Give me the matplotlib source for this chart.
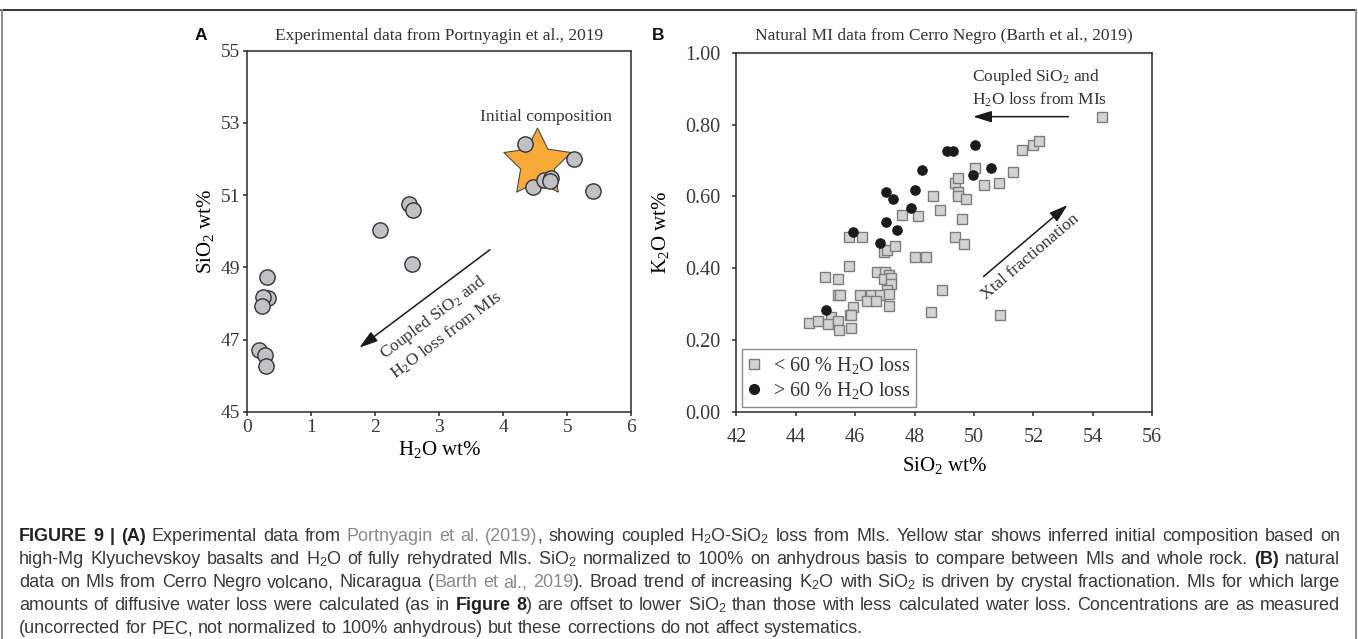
import matplotlib
matplotlib.use('Agg')
import matplotlib.pyplot as plt
from matplotlib.path import Path
from matplotlib.lines import Line2D

W, H = 1358, 639

plt.rcParams['font.family'] = ['Liberation Serif', 'DejaVu Serif']
plt.rcParams['mathtext.fontset'] = 'custom'
plt.rcParams['mathtext.rm'] = 'Liberation Serif'
plt.rcParams['mathtext.it'] = 'Liberation Serif:italic'
plt.rcParams['mathtext.sf'] = 'Liberation Sans'
plt.rcParams['text.color'] = '#333333'
plt.rcParams['axes.edgecolor'] = '#2a2a2a'
plt.rcParams['axes.linewidth'] = 1.1
plt.rcParams['xtick.color'] = '#2a2a2a'
plt.rcParams['ytick.color'] = '#2a2a2a'
plt.rcParams['xtick.labelcolor'] = '#3a3a3a'
plt.rcParams['ytick.labelcolor'] = '#3a3a3a'

# ---- panel A : experimental data (Portnyagin et al., 2019)
h2o_exp = [4.34, 5.10, 5.40, 4.47, 4.63, 4.75, 4.73, 2.53, 2.59, 2.08, 2.57,
           0.31, 0.33, 0.24, 0.23, 0.18, 0.28, 0.29]
sio2_exp = [52.41, 52.00, 51.13, 51.22, 51.42, 51.47, 51.40, 50.75, 50.60, 50.04, 49.09,
            48.75, 48.15, 48.18, 47.94, 46.72, 46.58, 46.26]
h2o_init = [4.53]
sio2_init = [51.90]
a_xticks = [0, 1, 2, 3, 4, 5, 6]
a_yticks = [45, 47, 49, 51, 53, 55]

# ---- panel B : Cerro Negro MIs (Barth et al., 2019)
sio2_lo = [54.30, 51.62, 51.98, 52.20, 50.03, 51.30, 50.85, 50.34, 49.36, 49.45,
           49.45, 49.45, 49.73, 48.61, 48.86, 47.58, 48.10, 49.60, 49.36, 49.66,
           45.79, 46.22, 46.98, 47.07, 47.35, 48.03, 48.40, 45.79, 44.98, 45.42,
           46.72, 46.99, 47.13, 46.98, 47.22, 47.20, 47.06, 48.91, 45.43, 45.50,
           46.16, 46.53, 46.85, 47.13, 46.40, 46.70, 47.13, 45.93, 48.56, 50.86,
           45.81, 45.87, 45.19, 44.44, 44.74, 45.10, 45.42, 45.47, 45.86]
k2o_lo = [0.822, 0.730, 0.742, 0.753, 0.680, 0.667, 0.636, 0.631, 0.637, 0.650,
          0.611, 0.600, 0.594, 0.600, 0.563, 0.549, 0.545, 0.538, 0.488, 0.468,
          0.488, 0.488, 0.444, 0.452, 0.463, 0.432, 0.432, 0.407, 0.377, 0.370,
          0.389, 0.389, 0.381, 0.371, 0.372, 0.356, 0.340, 0.340, 0.326, 0.326,
          0.326, 0.326, 0.326, 0.329, 0.309, 0.309, 0.295, 0.291, 0.277, 0.270,
          0.270, 0.270, 0.265, 0.247, 0.253, 0.246, 0.253, 0.228, 0.235]
sio2_hi = [49.10, 49.30, 50.03, 48.25, 50.57, 49.97, 47.03, 47.28, 48.02, 47.87,
           45.94, 47.05, 47.42, 46.84, 45.03]
k2o_hi = [0.727, 0.727, 0.742, 0.674, 0.679, 0.661, 0.611, 0.594, 0.619, 0.569,
          0.500, 0.530, 0.507, 0.470, 0.284]
b_xticks = [42, 44, 46, 48, 50, 52, 54, 56]
b_yticks = [0.0, 0.2, 0.4, 0.6, 0.8, 1.0]

# ---- caption (runs of text: b = bold, n = normal, g = grey link)
SUB = r'$_\mathsf{2}$'
caption = [
    [('FIGURE 9 | (A)', 'b'), (' Experimental data from ', 'n'), ('Portnyagin et al. (2019)', 'g'),
     (', showing coupled H' + SUB + 'O-SiO' + SUB + ' loss from MIs. Yellow star shows inferred '
      'initial composition based on', 'n')],
    [('high-Mg Klyuchevskoy basalts and H' + SUB + 'O of fully rehydrated MIs. SiO' + SUB +
      ' normalized to 100% on anhydrous basis to compare between MIs and whole rock. ', 'n'),
     ('(B)', 'b'), (' natural', 'n')],
    [('data on MIs from Cerro Negro volcano, Nicaragua (', 'n'), ('Barth et al., 2019', 'g'),
     ('). Broad trend of increasing K' + SUB + 'O with SiO' + SUB + ' is driven by crystal '
      'fractionation. MIs for which large', 'n')],
    [('amounts of diffusive water loss were calculated (as in ', 'n'), ('Figure 8', 'b'),
     (') are offset to lower SiO' + SUB + ' than those with less calculated water loss. '
      'Concentrations are as measured', 'n')],
    [('(uncorrected for PEC, not normalized to 100% anhydrous) but these corrections do not '
      'affect systematics.', 'n')],
]


def px_box(left, top, right, bottom):
    return [left / W, 1 - bottom / H, (right - left) / W, (bottom - top) / H]


fig = plt.figure(figsize=(W / 100, H / 100), dpi=100)

# outer frame of the figure panel
fig.add_artist(Line2D([1 / W, 1356 / W], [1 - 10 / H, 1 - 10 / H], color='#111111', lw=1.2))
for xx in (1.5, 1355.5):
    fig.add_artist(Line2D([xx / W, xx / W], [0, 1 - 10 / H], color='#8c8c8c', lw=1.4))

tick_kw = dict(direction='out', length=3.2, width=1.1)
arrow_kw = dict(arrowstyle='-|>,head_length=0.8,head_width=0.25', color='#1a1a1a',
                lw=1.1, shrinkA=0, shrinkB=0, mutation_scale=14)

# ================= panel A
axA = fig.add_axes(px_box(247.3, 50.7, 631.3, 412))
star = Path.unit_regular_star(5, 0.5)
axA.plot(h2o_init, sio2_init, ls='none', marker=star, ms=51, mfc='#f7aa38',
         mec='#4a4a4a', mew=0.8, zorder=2)
axA.plot(h2o_exp, sio2_exp, ls='none', marker='o', ms=11, mfc='#c1c1c5',
         mec='#333333', mew=1.0, zorder=3)
axA.set_xlim(0, 6)
axA.set_ylim(45, 55)
axA.set_xticks(a_xticks)
axA.set_yticks(a_yticks)
axA.tick_params(labelsize=14, pad=2, **tick_kw)
axA.set_xlabel(r'H$_2$O wt%', fontsize=15)
axA.set_ylabel(r'SiO$_2$ wt%', fontsize=15)
axA.xaxis.set_label_coords(0.5, -0.105)
axA.xaxis.label.set_va('center')
axA.yaxis.set_label_coords(-0.11, 0.5)
axA.yaxis.label.set_va('center')
axA.set_title('Experimental data from Portnyagin et al., 2019', fontsize=12.5, pad=8)
axA.text(4.67, 53.17, 'Initial composition', fontsize=12.5, ha='center', va='center')
axA.annotate('', xy=(1.75, 46.78), xytext=(3.79, 49.49), arrowprops=arrow_kw)
axA.text(3.01, 47.37, 'Coupled SiO$_2$ and\nH$_2$O loss from MIs', fontsize=12.5,
         rotation=36.8, rotation_mode='anchor', ha='center', va='center', multialignment='center')
fig.text(201 / W, 1 - 35 / H, 'A', family='Liberation Sans', weight='bold',
         fontsize=12.5, color='#111111', ha='center', va='center')

# ================= panel B
axB = fig.add_axes(px_box(736.4, 52.7, 1152.2, 412))
axB.plot(sio2_lo, k2o_lo, ls='none', marker='s', ms=6.8, mfc='#d2d2d2',
         mec='#7d7d7d', mew=1.0, zorder=3)
axB.plot(sio2_hi, k2o_hi, ls='none', marker='o', ms=6.8, mfc='#1b1b1b',
         mec='#1b1b1b', mew=0.8, zorder=4)
axB.set_xlim(42, 56)
axB.set_ylim(0, 1)
axB.set_xticks(b_xticks)
axB.set_yticks(b_yticks)
axB.set_yticklabels([f'{v:.2f}' for v in b_yticks])
axB.tick_params(labelsize=14.5, pad=8, **tick_kw)
axB.set_xlabel(r'SiO$_2$ wt%', fontsize=15)
axB.set_ylabel(r'K$_2$O wt%', fontsize=15)
axB.xaxis.set_label_coords(0.5, -0.148)
axB.xaxis.label.set_va('center')
axB.yaxis.set_label_coords(-0.182, 0.5)
axB.yaxis.label.set_va('center')
axB.set_title('Natural MI data from Cerro Negro (Barth et al., 2019)', fontsize=12.5, pad=9)
axB.annotate('', xy=(49.97, 0.822), xytext=(53.18, 0.822), arrowprops=arrow_kw)
axB.text(49.93, 0.902, 'Coupled SiO$_2$ and\nH$_2$O loss from MIs', fontsize=12.5,
         ha='left', va='center')
axB.annotate('', xy=(53.15, 0.576), xytext=(50.32, 0.377), arrowprops=arrow_kw)
axB.text(51.89, 0.432, 'Xtal fractionation', fontsize=12.5, rotation=40.5,
         rotation_mode='anchor', ha='center', va='center')
handles = [
    Line2D([], [], ls='none', marker='s', ms=7, mfc='#d2d2d2', mec='#7d7d7d', mew=1.0),
    Line2D([], [], ls='none', marker='o', ms=7, mfc='#1b1b1b', mec='#1b1b1b'),
]
leg = axB.legend(handles, [r'< 60 % H$_2$O loss', r'> 60 % H$_2$O loss'],
                 loc='lower left', bbox_to_anchor=(0.0144, 0.014), borderaxespad=0,
                 fontsize=14.5, handlelength=0.6, handletextpad=0.6, borderpad=0.3,
                 labelspacing=0.2, fancybox=False, framealpha=1, edgecolor='#8c8c8c')
leg.get_frame().set_linewidth(1.0)
fig.text(658 / W, 1 - 35 / H, 'B', family='Liberation Sans', weight='bold',
         fontsize=12.5, color='#111111', ha='center', va='center')

# ================= caption, justified word by word
styles = {
    'n': dict(color='#3a3a3a'),
    'g': dict(color='#8a8a8a'),
    'b': dict(color='#222222', weight='bold'),
}
cap_left, cap_right = 19, 1340
baselines = [541, 564, 587, 610, 633]
renderer = fig.canvas.get_renderer()
cap_font = dict(family=['Liberation Sans', 'DejaVu Sans'], fontsize=13, va='baseline', ha='left')

probe1 = fig.text(0, 0, 'a a', **cap_font)
probe2 = fig.text(0, 0, 'aa', **cap_font)
space_w = probe1.get_window_extent(renderer).width - probe2.get_window_extent(renderer).width
probe1.remove()
probe2.remove()

for li, runs in enumerate(caption):
    words = []
    new_word = True
    for text, st in runs:
        for i, piece in enumerate(text.split(' ')):
            if i > 0:
                new_word = True
            if piece:
                if new_word:
                    words.append([])
                    new_word = False
                words[-1].append((piece, st))
    y = 1 - baselines[li] / H
    placed = []
    for word in words:
        parts = []
        for piece, st in word:
            t = fig.text(0, y, piece, **cap_font, **styles[st])
            parts.append((t, t.get_window_extent(renderer).width))
        placed.append(parts)
    widths = [sum(w for _, w in parts) for parts in placed]
    if li < len(caption) - 1:
        gap = (cap_right - cap_left - sum(widths)) / (len(placed) - 1)
    else:
        gap = space_w
    x = cap_left
    for parts, ww in zip(placed, widths):
        xx = x
        for t, w in parts:
            t.set_x(xx / W)
            xx += w
        x += ww + gap

fig.savefig('out.png', dpi=100)
